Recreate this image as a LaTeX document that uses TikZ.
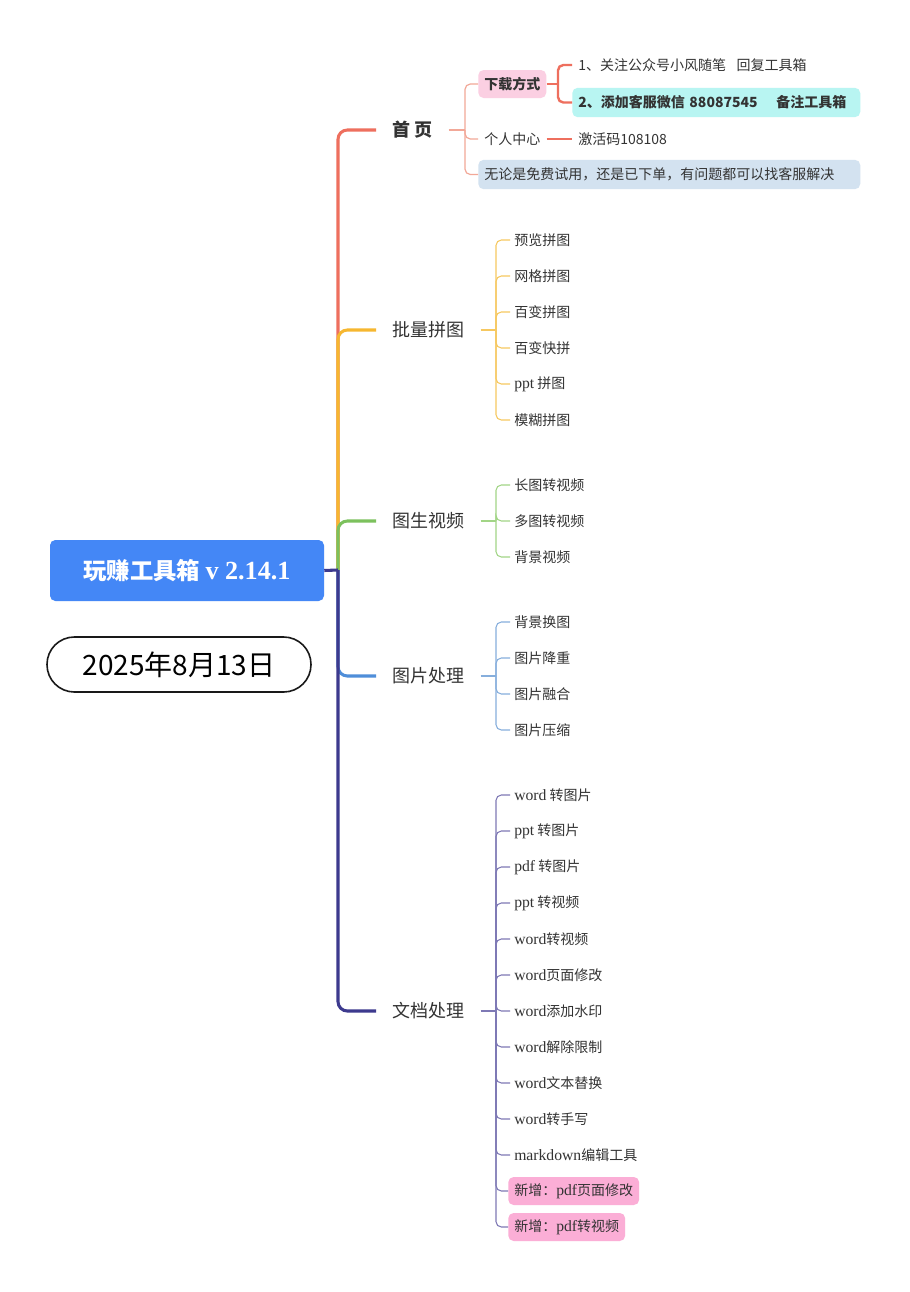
\documentclass[tikz,border=0pt]{standalone}
\usepackage{fontspec}
\setmainfont{Noto Sans CJK SC}
\newfontfamily\lat{Liberation Serif}[Scale=1.12]
\newcommand\en[1]{{\lat #1}}
\definecolor{cred}{HTML}{EE6F5E}
\definecolor{lred}{HTML}{F2A898}
\definecolor{cyel}{HTML}{F6B730}
\definecolor{lyel}{HTML}{F6C860}
\definecolor{cgrn}{HTML}{7CC15D}
\definecolor{lgrn}{HTML}{A2D586}
\definecolor{cblu}{HTML}{4F8ED9}
\definecolor{lblu}{HTML}{86AEDC}
\definecolor{cpur}{HTML}{3D3A8E}
\definecolor{lpur}{HTML}{7E79B5}
\definecolor{rootblue}{HTML}{4487F6}
\definecolor{pinkbox}{HTML}{FBCFE2}
\definecolor{cyanbox}{HTML}{B8F5F2}
\definecolor{notebox}{HTML}{D3E2F0}
\definecolor{newbox}{HTML}{FBAED6}
\definecolor{txt}{HTML}{333333}
\begin{document}
\begin{tikzpicture}[x=0.75pt,y=-0.75pt,
  trunk/.style={line width=2.3pt, rounded corners=7pt},
  brlabel/.style={anchor=west, inner xsep=12pt, inner ysep=2pt, text=txt, font=\fontsize{13.5}{16}\selectfont},
  leaf/.style={anchor=west, inner xsep=3pt, inner ysep=1pt, text=txt, font=\fontsize{10.5}{12}\selectfont},
  newleaf/.style={anchor=west, inner xsep=4.5pt, inner ysep=0pt, minimum height=21pt, fill=newbox, rounded corners=4pt, text=txt, font=\fontsize{10.5}{12}\selectfont},
  leafline/.style={line width=0.8pt, rounded corners=4pt},
  hone/.style={line width=0.9pt, lred, rounded corners=4pt},
  htwo/.style={line width=1.8pt, cred, rounded corners=4pt},
  hbox/.style={anchor=west, inner xsep=4.5pt, inner ysep=0pt, text=txt, font=\fontsize{10.5}{12}\selectfont, rounded corners=4pt}
]
\path[use as bounding box, fill=white] (0,0) rectangle (910,1292);

% root and date
\node[fill=rootblue, rounded corners=4pt, minimum width=205.5pt, minimum height=45.75pt, inner sep=0pt,
      text=white, font=\bfseries\fontsize{17.5}{20}\selectfont] (root) at (187,570.5) {玩赚工具箱 {\lat\bfseries v 2.14.1}};
\node[draw=black!90, line width=1.2pt, rounded corners=20.5pt, minimum width=198pt, minimum height=41.25pt, inner sep=0pt,
      font=\fontsize{21}{24}\selectfont] (date) at (179,664.5) {2025年8月13日};

\coordinate (T) at (338,570);

% branch labels
\node[brlabel, font=\bfseries\fontsize{13.5}{16}\selectfont] (b1) at (376,130) {首 页};
\node[brlabel] (b2) at (376,330) {批量拼图};
\node[brlabel] (b3) at (376,521) {图生视频};
\node[brlabel] (b4) at (376,676) {图片处理};
\node[brlabel] (b5) at (376,1011) {文档处理};

% trunk
\draw[trunk, cred] (T) |- (b1.west);
\draw[trunk, cyel] (T) |- (b2.west);
\draw[trunk, cgrn] (T) |- (b3.west);
\draw[trunk, cblu] (T) |- (b4.west);
\draw[trunk, cpur] (T) |- (b5.west);
\draw[line width=2.3pt, cpur] (root.east) -- (T);

% 首页 subtree
\coordinate (h1) at (465,130);
\node[hbox, fill=pinkbox, minimum height=21pt, font=\bfseries\fontsize{10.5}{12}\selectfont] (dl) at (478,84) {下载方式};
\node[hbox] (gr) at (478,139) {个人中心};
\node[hbox, fill=notebox, minimum height=22pt, text width=277.5pt, align=left] (nt) at (478,174.5) {无论是免费试用，还是已下单，有问题都可以找客服解决};
\node[hbox] (s1) at (572,65) {1、关注公众号小风随笔\hspace{8pt}回复工具箱};
\node[hbox, fill=cyanbox, minimum height=22pt, text width=207pt, align=left, font=\bfseries\fontsize{10.5}{12}\selectfont] (s2) at (572,102.5) {\mbox{2、添加客服微信 88087545\hspace{14pt}备注工具箱}};
\node[hbox] (s3) at (572,139) {激活码108108};
\coordinate (h2) at (558,84);
\draw[hone] (b1.east) -- (h1);
\draw[hone] (h1) |- (dl.west);
\draw[hone] (h1) |- (gr.west);
\draw[hone] (h1) |- (nt.west);
\draw[htwo] (dl.east) -- (h2);
\draw[htwo] (h2) |- (s1.west);
\draw[htwo] (h2) |- (s2.west);
\draw[htwo] (gr.east) -- (s3.west);

% 批量拼图
\coordinate (k2) at (496,330);
\draw[leafline, lyel] (b2.east) -- (k2);
\foreach \t [count=\i] in {预览拼图,网格拼图,百变拼图,百变快拼,\en{ppt} 拼图,模糊拼图}{
  \node[leaf] (y\i) at (510,204+36*\i) {\t};
  \draw[leafline, lyel] (k2) |- (y\i.west);
}

% 图生视频
\coordinate (k3) at (496,521);
\draw[leafline, lgrn] (b3.east) -- (k3);
\foreach \t [count=\i] in {长图转视频,多图转视频,背景视频}{
  \node[leaf] (g\i) at (510,449+36*\i) {\t};
  \draw[leafline, lgrn] (k3) |- (g\i.west);
}

% 图片处理
\coordinate (k4) at (496,676);
\draw[leafline, lblu] (b4.east) -- (k4);
\foreach \t [count=\i] in {背景换图,图片降重,图片融合,图片压缩}{
  \node[leaf] (u\i) at (510,586+36*\i) {\t};
  \draw[leafline, lblu] (k4) |- (u\i.west);
}

% 文档处理
\coordinate (k5) at (496,1011);
\draw[leafline, lpur] (b5.east) -- (k5);
\foreach \t [count=\i] in {\en{word} 转图片,\en{ppt} 转图片,\en{pdf} 转图片,\en{ppt} 转视频,\en{word}转视频,\en{word}页面修改,\en{word}添加水印,\en{word}解除限制,\en{word}文本替换,\en{word}转手写,\en{markdown}编辑工具}{
  \node[leaf] (w\i) at (510,759+36*\i) {\t};
  \draw[leafline, lpur] (k5) |- (w\i.west);
}
\node[newleaf] (n1) at (508,1191) {新增：\en{pdf}页面修改};
\node[newleaf] (n2) at (508,1227) {新增：\en{pdf}转视频};
\draw[leafline, lpur] (k5) |- (n1.west);
\draw[leafline, lpur] (k5) |- (n2.west);
\end{tikzpicture}
\end{document}
